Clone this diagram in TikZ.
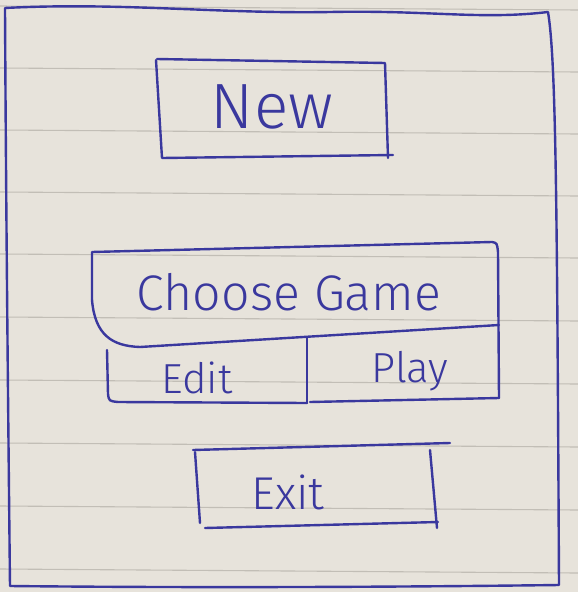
\documentclass[tikz,border=0pt]{standalone}
\usepackage{fontspec}
\setsansfont{Fira Sans}[UprightFont=* Light]
\usepackage{xcolor}
\usetikzlibrary{positioning}
\definecolor{SKPaper}{HTML}{E7E3DB}
\definecolor{SKRule}{HTML}{C2BEB6}
\definecolor{SKInk}{HTML}{3A389E}

\begin{document}
\begin{tikzpicture}[
  x=1pt, y=-1pt,
  ink/.style={draw=SKInk, line width=2.4pt, line cap=round, line join=round},
  rule/.style={draw=SKRule, line width=1.1pt},
  hand/.style={text=SKInk, inner sep=0pt, font=\sffamily\fontsize{#1}{#1}\selectfont},
  hand/.default=40
]
% paper
\fill[SKPaper] (0,0) rectangle (578,592);
\useasboundingbox (0,0) rectangle (578,592);
\foreach \ry in {6,68,130,192,254,317,380,443,506,569}
  \draw[rule] (0,\ry) -- (578,\ry+4);
% outer frame
\draw[ink] (5,8) .. controls (120,2) and (220,14) .. (330,12)
  .. controls (430,10) and (480,20) .. (548,12)
  .. controls (556,60) and (557,200) .. (559,585)
  .. controls (400,587) and (200,588) .. (10,586)
  .. controls (8,400) and (6,200) .. (5,8);
% buttons
\draw[ink] (157,59) -- (385,63) -- (388,158);
\draw[ink] (156,60) -- (162,158) -- (393,155);
\node[hand=64] (new) at (272,107) {New};

\draw[ink] (92,300) -- (92,252) -- (492,242) .. controls (497,243) .. (498,252) -- (499,398);
\draw[ink] (92,300) .. controls (95,335) and (112,346) .. (140,347) -- (499,325);
\node[hand=50] (choose) at (289,292) {Choose\hspace{14pt}Game};

\draw[ink] (107,350) -- (108,394) .. controls (109,401) .. (118,402) -- (307,403);
\draw[ink] (307,337) -- (307,403);
\draw[ink] (310,402) -- (499,398);
\node[hand=42] (edit) at (197,378) {Edit};
\node[hand=42] (play) at (410,371) {Play};

\draw[ink] (193,450) -- (450,443);
\draw[ink] (195,452) -- (200,523);
\draw[ink] (430,450) -- (437,528);
\draw[ink] (205,528) -- (438,522);
\node[hand=46] (exit) at (288,492) {Exit};
\end{tikzpicture}
\end{document}
